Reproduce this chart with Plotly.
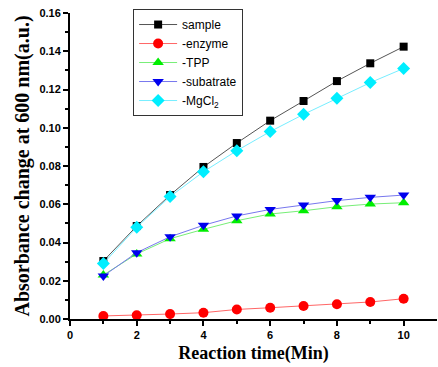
import plotly.graph_objects as go

time_min = [1, 2, 3, 4, 5, 6, 7, 8, 9, 10]
sample = [0.0303, 0.0486, 0.0648, 0.0795, 0.0920, 0.1037, 0.1140, 0.1244, 0.1337, 0.1424]
enzyme = [0.0016, 0.0020, 0.0026, 0.0033, 0.0050, 0.0059, 0.0068, 0.0077, 0.0089, 0.0106]
tpp = [0.0230, 0.0340, 0.0420, 0.0469, 0.0514, 0.0549, 0.0566, 0.0587, 0.0601, 0.0608]
subatrate = [0.0225, 0.0347, 0.0430, 0.0490, 0.0539, 0.0573, 0.0596, 0.0619, 0.0636, 0.0648]
mgcl2 = [0.0290, 0.0480, 0.0640, 0.0770, 0.0880, 0.0980, 0.1070, 0.1154, 0.1236, 0.1310]

series = [
    ("sample", sample, "#000000", "#555555", "square", 8),
    ("-enzyme", enzyme, "#ff0000", "#ff6666", "circle", 10),
    ("-TPP", tpp, "#00ee00", "#77ee77", "triangle-up", 10),
    ("-subatrate", subatrate, "#0000ee", "#7777ee", "triangle-down", 10),
    ("-MgCl<sub>2</sub>", mgcl2, "#00eeff", "#77eeff", "diamond", 10),
]

fig = go.Figure()
for name, vals, mc, lc, sym, sz in series:
    fig.add_trace(go.Scatter(
        x=time_min, y=vals, name=name, mode="lines+markers",
        line=dict(color=lc, width=1),
        marker=dict(color=mc, symbol=sym, size=sz, line=dict(width=0)),
    ))

fig.update_layout(
    width=438, height=367,
    margin=dict(l=70, r=1, t=13, b=48),
    plot_bgcolor="white", paper_bgcolor="white",
    showlegend=True,
    legend=dict(
        x=0.172, y=1.013, xanchor="left", yanchor="top",
        bgcolor="white", bordercolor="#333", borderwidth=1,
        font=dict(family="Liberation Sans, Arial", size=12, color="#000"),
        tracegroupgap=0, itemwidth=38,
    ),
    xaxis=dict(
        automargin=False,
        range=[0, 11], tickvals=[0, 2, 4, 6, 8, 10],
        ticks="outside", ticklen=5, tickwidth=2, tickcolor="#000",
        minor=dict(tickvals=[1, 3, 5, 7, 9], ticks="outside", ticklen=3, tickwidth=2, tickcolor="#000"),
        showline=True, linecolor="#000", linewidth=2,
        showgrid=False, zeroline=False,
        tickfont=dict(family="Liberation Sans", size=11, color="#000", weight="bold"),
        title=dict(text="<b>Reaction time(Min)</b>",
                   font=dict(family="Liberation Serif, Times New Roman", size=18, color="#000"),
                   standoff=6),
    ),
    yaxis=dict(
        automargin=False,
        range=[0, 0.16], tickvals=[0, 0.02, 0.04, 0.06, 0.08, 0.10, 0.12, 0.14, 0.16],
        tickformat=".2f",
        ticks="outside", ticklen=5, tickwidth=2, tickcolor="#000",
        minor=dict(tickvals=[0.01, 0.03, 0.05, 0.07, 0.09, 0.11, 0.13, 0.15], ticks="outside", ticklen=3, tickwidth=2, tickcolor="#000"),
        showline=True, linecolor="#000", linewidth=2,
        showgrid=False, zeroline=False,
        tickfont=dict(family="Liberation Sans", size=11, color="#000", weight="bold"),
        title=dict(text="<b>Absorbance change at 600 nm(a.u.)</b>",
                   font=dict(family="Liberation Serif, Times New Roman", size=20, color="#000"),
                   standoff=4),
    ),
)

fig.write_html("out.html", config={"displayModeBar": False},
               post_script="document.body.style.margin='0';document.body.style.overflow='hidden';")
